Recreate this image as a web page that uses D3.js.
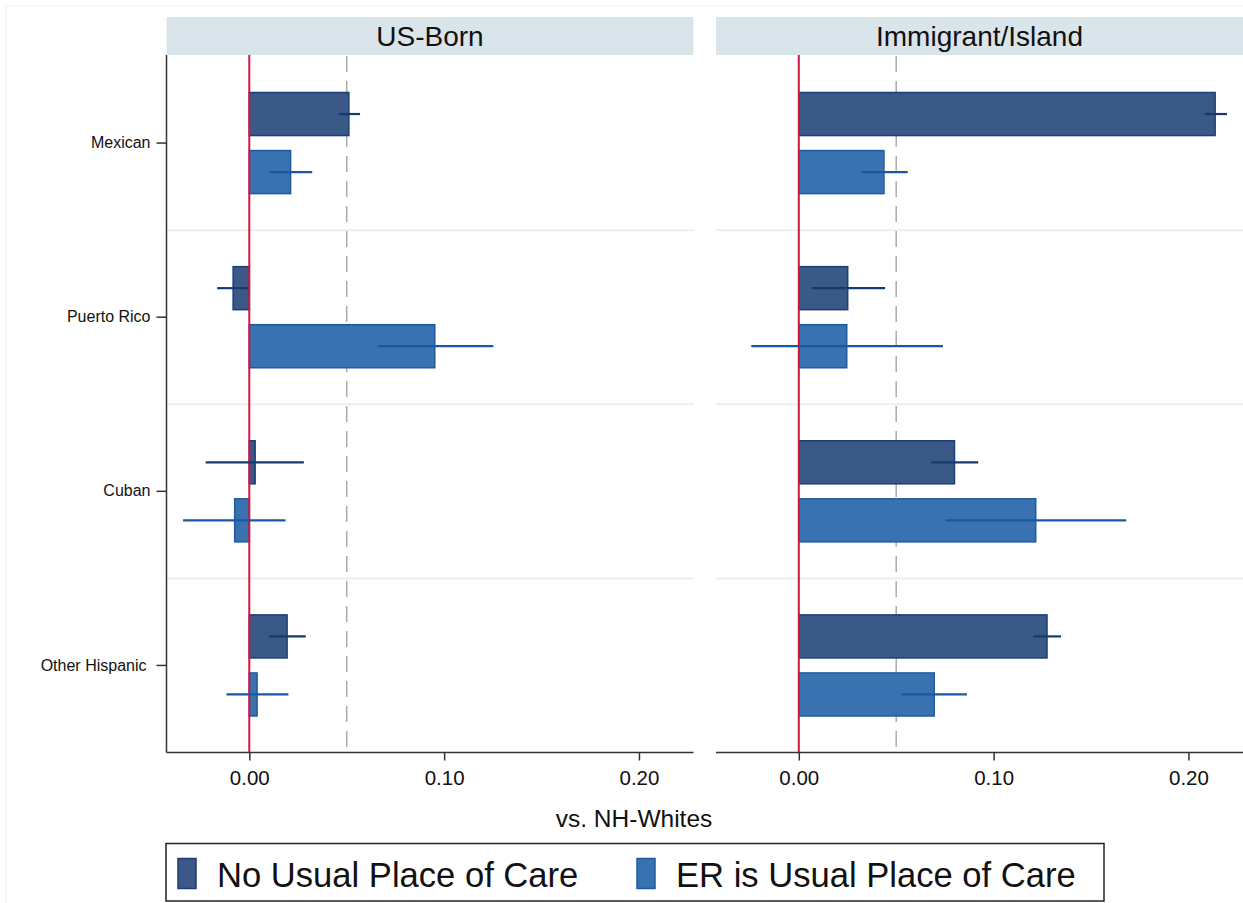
<!DOCTYPE html>
<html>
<head>
<meta charset="utf-8">
<script src="https://cdn.jsdelivr.net/npm/d3@7"></script>
<style>
  html, body { margin: 0; padding: 0; background: #fff; }
  svg { display: block; font-family: "Liberation Sans", Arial, sans-serif; }
</style>
</head>
<body>
<svg id="chart" width="1243" height="903"></svg>
<script>
// ---- data ----
const categories = ["Mexican", "Puerto Rico", "Cuban", "Other Hispanic"];
const panels = ["US-Born", "Immigrant/Island"];
const seriesNames = ["No Usual Place of Care", "ER is Usual Place of Care"];
const xTicks = [0, 0.10, 0.20];
const xTickLabels = ["0.00", "0.10", "0.20"];
const refLine = 0.05;

// US-Born
const usNoPlace   = [0.0511, -0.0083, 0.0030, 0.0194];
const usNoPlaceLo = [0.0460, -0.0165, -0.0224, 0.0102];
const usNoPlaceHi = [0.0568, -0.0006, 0.0280, 0.0290];
const usER        = [0.0212, 0.0952, -0.0075, 0.0040];
const usERLo      = [0.0102, 0.0659, -0.0340, -0.0117];
const usERHi      = [0.0323, 0.1253, 0.0186, 0.0201];
// Immigrant/Island
const imNoPlace   = [0.2137, 0.0251, 0.0799, 0.1274];
const imNoPlaceLo = [0.2083, 0.0065, 0.0679, 0.1204];
const imNoPlaceHi = [0.2198, 0.0443, 0.0921, 0.1346];
const imER        = [0.0437, 0.0246, 0.1216, 0.0695];
const imERLo      = [0.0320, -0.0244, 0.0753, 0.0527];
const imERHi      = [0.0559, 0.0740, 0.1681, 0.0863];

const panelData = [
  [ {v: usNoPlace, lo: usNoPlaceLo, hi: usNoPlaceHi}, {v: usER, lo: usERLo, hi: usERHi} ],
  [ {v: imNoPlace, lo: imNoPlaceLo, hi: imNoPlaceHi}, {v: imER, lo: imERLo, hi: imERHi} ]
];

// ---- styles ----
const fills   = ["#3a5987", "#3872b0"];
const strokes = ["#1d3e74", "#1f5aa0"];
const errCols = ["#163a70", "#1b58a3"];

const svg = d3.select("#chart");
const W = 1243, H = 903;

// faint outer frame
svg.append("rect").attr("x", 6).attr("y", 6).attr("width", W).attr("height", H)
  .attr("fill", "none").attr("stroke", "#efefef").attr("stroke-width", 1);

const panelX = [166.5, 716];
const panelW = 527;
const plotTop = 56, plotBottom = 752.5;
const headTop = 17, headBottom = 55;

const y = d3.scaleBand().domain(categories).range([plotTop, plotBottom]).padding(0);
const ySub = d3.scaleBand().domain(seriesNames).range([0, y.bandwidth()])
  .paddingInner(0.2586).paddingOuter(0.629);

panels.forEach((pname, pi) => {
  const x0 = panelX[pi];
  const x = d3.scaleLinear().domain([-0.0425, 0.228]).range([x0, x0 + panelW]);
  const g = svg.append("g");

  // header strip
  g.append("rect").attr("x", x0).attr("y", headTop).attr("width", panelW)
    .attr("height", headBottom - headTop).attr("fill", "#d9e5eb");
  g.append("text").attr("x", x0 + panelW / 2).attr("y", (headTop + headBottom) / 2 + 10)
    .attr("text-anchor", "middle").attr("font-size", 28).attr("fill", "#111").text(pname);

  // band separators
  categories.slice(1).forEach(c => {
    g.append("line").attr("x1", x0).attr("x2", x0 + panelW)
      .attr("y1", y(c)).attr("y2", y(c))
      .attr("stroke", "#e9f0f3").attr("stroke-width", 2);
  });

  // dashed reference
  g.append("line").attr("x1", x(refLine)).attr("x2", x(refLine))
    .attr("y1", plotTop).attr("y2", plotBottom)
    .attr("stroke", "#aaaaaa").attr("stroke-width", 1.5).attr("stroke-dasharray", "16,9");

  // bars
  panelData[pi].forEach((s, si) => {
    categories.forEach((c, ci) => {
      const v = s.v[ci];
      const yy = y(c) + ySub(seriesNames[si]);
      g.append("rect")
        .attr("x", Math.min(x(0), x(v))).attr("y", yy)
        .attr("width", Math.abs(x(v) - x(0))).attr("height", ySub.bandwidth())
        .attr("fill", fills[si]).attr("stroke", strokes[si]).attr("stroke-width", 1.5);
    });
  });

  // zero line
  g.append("line").attr("x1", x(0)).attr("x2", x(0))
    .attr("y1", plotTop - 1).attr("y2", plotBottom)
    .attr("stroke", "#d2153f").attr("stroke-width", 2);

  // error bars
  panelData[pi].forEach((s, si) => {
    categories.forEach((c, ci) => {
      const yc = y(c) + ySub(seriesNames[si]) + ySub.bandwidth() / 2;
      g.append("line").attr("x1", x(s.lo[ci])).attr("x2", x(s.hi[ci]))
        .attr("y1", yc).attr("y2", yc)
        .attr("stroke", errCols[si]).attr("stroke-width", 2.2);
    });
  });

  // x axis
  const xAxis = d3.axisBottom(x).tickValues(xTicks)
    .tickFormat((d, i) => xTickLabels[i]).tickSize(8).tickSizeOuter(0).tickPadding(10);
  const ax = svg.append("g").attr("transform", `translate(0,${plotBottom})`).call(xAxis);
  ax.select(".domain").attr("stroke", "#333").attr("stroke-width", 1.5)
    .attr("d", `M${x0},0H${x0 + panelW}`);
  ax.selectAll(".tick line").attr("stroke", "#333").attr("stroke-width", 1.5);
  ax.selectAll(".tick text").attr("font-size", 20.5).attr("fill", "#111")
    .attr("font-family", "Liberation Sans, Arial, sans-serif");

  if (pi === 0) {
    const yAxis = d3.axisLeft(y).tickSize(10).tickSizeOuter(0).tickPadding(6);
    const ay = svg.append("g").attr("transform", `translate(${x0},0)`).call(yAxis);
    ay.select(".domain").attr("stroke", "#333").attr("stroke-width", 1.5)
      .attr("d", `M0,${headBottom}V${plotBottom}`);
    ay.selectAll(".tick line").attr("stroke", "#333").attr("stroke-width", 1.5);
    ay.selectAll(".tick text").attr("font-size", 16).attr("fill", "#111")
      .attr("font-family", "Liberation Sans, Arial, sans-serif")
      .attr("dx", d => d === "Other Hispanic" ? -4 : 0);
  }
});

// x axis title
svg.append("text").attr("x", 634).attr("y", 827).attr("text-anchor", "middle")
  .attr("font-size", 24.5).attr("fill", "#111").text("vs. NH-Whites");

// legend
const lg = svg.append("g");
lg.append("rect").attr("x", 166).attr("y", 843.5).attr("width", 938).attr("height", 57.5)
  .attr("fill", "#fff").attr("stroke", "#222").attr("stroke-width", 1.5);
const legX = [178, 637];
seriesNames.forEach((n, i) => {
  lg.append("rect").attr("x", legX[i]).attr("y", 858.5).attr("width", 18).attr("height", 30)
    .attr("fill", fills[i]).attr("stroke", strokes[i]).attr("stroke-width", 1.5);
  lg.append("text").attr("x", legX[i] + 39).attr("y", 886.5).attr("font-size", 34.6)
    .attr("fill", "#111").text(n);
});
</script>
</body>
</html>
